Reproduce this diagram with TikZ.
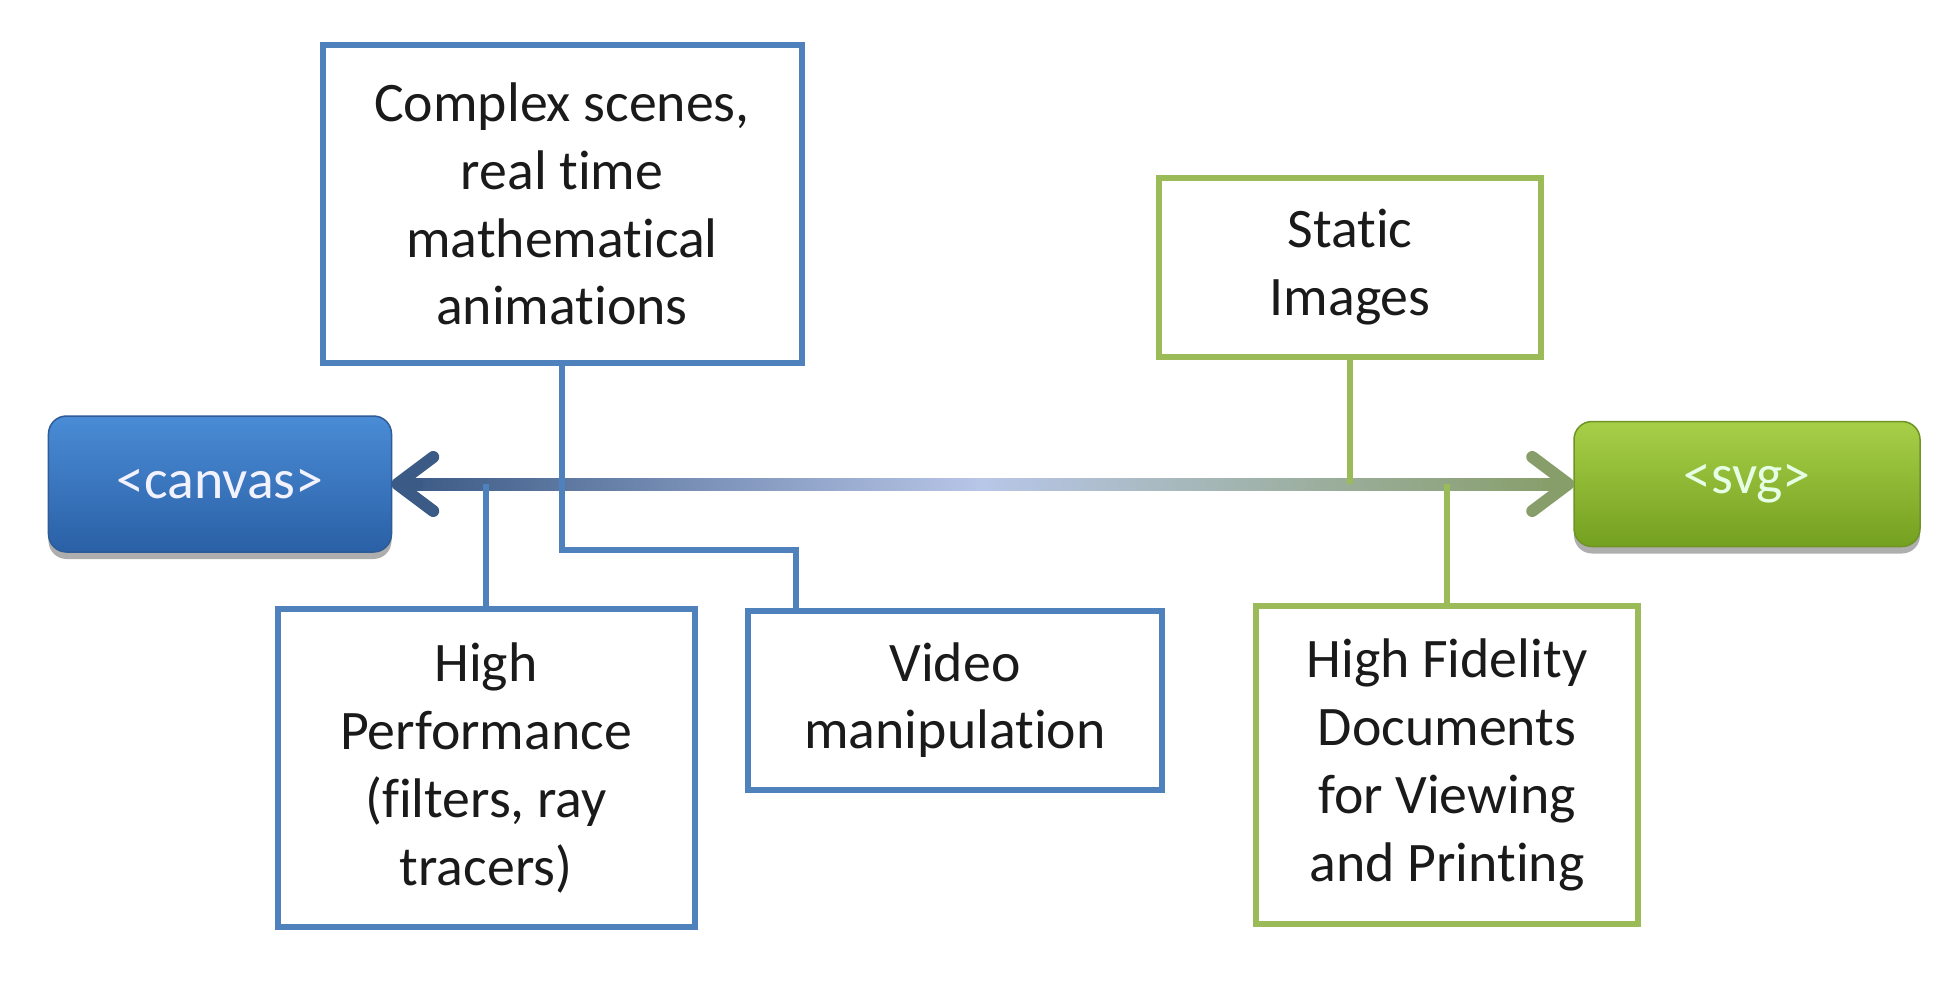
\documentclass[tikz,border=0pt]{standalone}
\usepackage{fontspec}
\setmainfont{Carlito}[Ligatures={NoCommon}]
\usetikzlibrary{shadows,calc}
\definecolor{bbord}{HTML}{4F81BD}
\definecolor{gbord}{HTML}{9BBB59}
\definecolor{arL}{HTML}{3B5A85}
\definecolor{arM}{HTML}{B8C6E8}
\definecolor{arR}{HTML}{879E6A}
\definecolor{cvtop}{HTML}{4A8CD6}
\definecolor{cvbot}{HTML}{2A60A6}
\definecolor{cvline}{HTML}{2D5C98}
\definecolor{svtop}{HTML}{A8CF48}
\definecolor{svbot}{HTML}{74A020}
\definecolor{svline}{HTML}{6E9424}
\definecolor{txtc}{HTML}{1A1A1A}
\begin{document}
\begin{tikzpicture}[x=1bp,y=-1bp,
  txt/.style={font=\fontsize{56}{68}\selectfont, text=txtc, align=center, inner sep=0pt},
  bluebox/.style={txt, draw=bbord, line width=6bp, fill=white},
  greenbox/.style={txt, draw=gbord, line width=6bp, fill=white},
  tagbox/.style={font=\fontsize{56}{68}\selectfont, align=center, inner sep=0pt,
     rounded corners=18bp, line width=1.5bp,
     drop shadow={shadow xshift=0bp, shadow yshift=-7bp, opacity=.45, fill=black!70}},
  bconn/.style={draw=bbord, line width=6bp},
  gconn/.style={draw=gbord, line width=6bp},
  chev/.style={line width=12bp, line cap=round, line join=round}]
\fill[white] (0,0) rectangle (1954,992);

% main tag boxes
\node[tagbox, top color=cvtop, bottom color=cvbot, draw=cvline, text=white!95!blue,
      minimum width=343bp, minimum height=136bp] (cv) at (220,484) {<canvas>};
\node[tagbox, top color=svtop, bottom color=svbot, draw=svline, text=white!90!green,
      minimum width=346bp, minimum height=125bp] (sv) at (1747,484) {<svg>};

% feature boxes
\node[bluebox, minimum width=479bp, minimum height=317bp] (cx) at (562,204)
  {Complex scenes,\\real time\\mathematical\\animations};
\node[bluebox, minimum width=417bp, minimum height=318bp] (hp) at (486,768)
  {High\\Performance\\(filters, ray\\tracers)};
\node[bluebox, minimum width=414bp, minimum height=179bp] (vd) at (955,700)
  {Video\\manipulation};
\node[greenbox, minimum width=382bp, minimum height=179bp] (st) at (1350,267)
  {Static\\Images};
\node[greenbox, minimum width=382bp, minimum height=318bp] (hf) at (1447,765)
  {High Fidelity\\Documents\\for Viewing\\and Printing};

% double arrow
\coordinate (aL) at ($(cv.east)+(5,0)$);
\coordinate (aR) at ($(sv.west)+(-5,0)$);
\shade[left color=arL, right color=arR, middle color=arM]
  ($(aL)+(10,-6)$) rectangle ($(aR)+(-10,6)$);
\draw[chev, arL] ($(aL)+(36,-27)$) -- (aL) -- ($(aL)+(36,27)$);
\draw[chev, arL] ($(aL)+(4,0)$) -- ($(aL)+(20,0)$);
\draw[chev, arR] ($(aR)+(-36,-27)$) -- (aR) -- ($(aR)+(-36,27)$);
\draw[chev, arR] ($(aR)+(-4,0)$) -- ($(aR)+(-20,0)$);

% connectors
\draw[bconn] (cx.south) -- ++(0,184) -| ($(vd.north west)+(51,0)$);
\draw[bconn] (hp.north) -- (hp.north |- aL);
\draw[gconn] (st.south) -- (st.south |- aR);
\draw[gconn] (hf.north) -- (hf.north |- aR);
\end{tikzpicture}
\end{document}
